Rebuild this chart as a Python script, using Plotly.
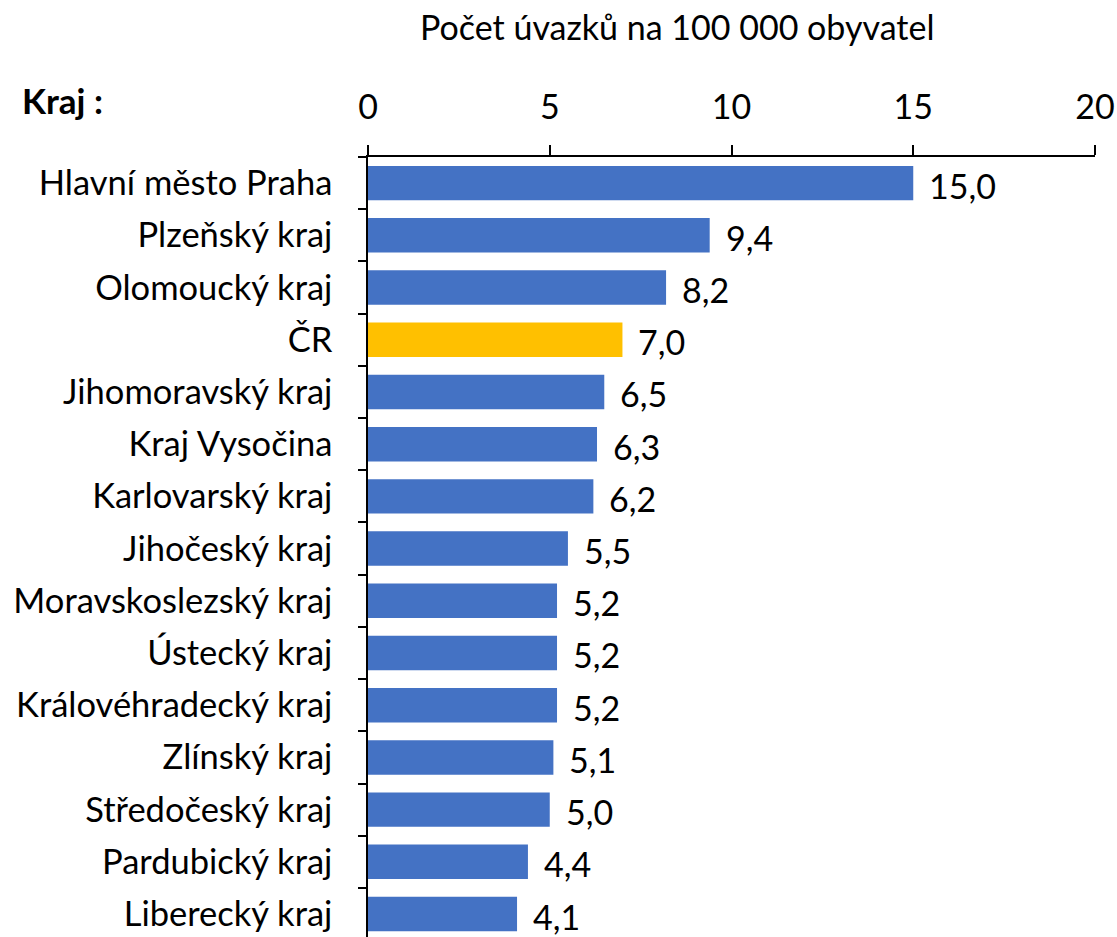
import plotly.graph_objects as go

categories = ["Hlavní město Praha", "Plzeňský kraj", "Olomoucký kraj", "ČR",
              "Jihomoravský kraj", "Kraj Vysočina", "Karlovarský kraj", "Jihočeský kraj",
              "Moravskoslezský kraj", "Ústecký kraj", "Královéhradecký kraj", "Zlínský kraj",
              "Středočeský kraj", "Pardubický kraj", "Liberecký kraj"]
values = [15.0, 9.4, 8.2, 7.0, 6.5, 6.3, 6.2, 5.5, 5.2, 5.2, 5.2, 5.1, 5.0, 4.4, 4.1]
labels = [f"{v:.1f}".replace(".", ",") for v in values]
x_ticks = [0, 5, 10, 15, 20]
title_text = "Počet úvazků na 100 000 obyvatel"
ylabel_text = "Kraj :"

BLUE = "#4472C4"
GOLD = "#FFC000"
colors = [GOLD if c == "ČR" else BLUE for c in categories]
FONT = "Lato"

fig = go.Figure(go.Bar(
    x=values, y=categories, orientation="h",
    marker=dict(color=colors, line=dict(width=0)),
    width=0.66, hoverinfo="skip",
))

for c, v, t in zip(categories, values, labels):
    fig.add_annotation(x=v, y=c, text=t, showarrow=False, xanchor="left",
                       xshift=14, yshift=-2, font=dict(family=FONT, size=34, color="black"))

W, H = 1117, 937
L, R, T, B = 368, 22, 157, 0

def px_to_paper(x, y):
    return (x - L) / (W - L - R), 1 - (y - T) / (H - T - B)

tx, ty = px_to_paper(677, 27)
fig.add_annotation(x=tx, y=ty, xref="paper", yref="paper", text=title_text,
                   showarrow=False, xanchor="center", yanchor="middle",
                   font=dict(family=FONT, size=34, color="black"))
kx, ky = px_to_paper(20, 100)
fig.add_annotation(x=kx, y=ky, xref="paper", yref="paper", text="<b>" + ylabel_text + "</b>",
                   showarrow=False, xanchor="left", yanchor="middle",
                   font=dict(family=FONT, size=35, color="black"))

fig.update_layout(
    width=W, height=H,
    margin=dict(l=L, r=R, t=T, b=B),
    plot_bgcolor="white", paper_bgcolor="white",
    showlegend=False,
    font=dict(family=FONT, size=34, color="black"),
)
fig.update_xaxes(
    side="top", range=[0, 20], tickvals=x_ticks, ticktext=[str(v) for v in x_ticks],
    showgrid=False, zeroline=False, showline=True, linecolor="black", linewidth=1.5,
    ticks="outside", ticklen=10, tickcolor="black", tickwidth=1.5,
    ticklabelstandoff=13, tickfont=dict(family=FONT, size=34, color="black"),
)
fig.update_yaxes(
    range=[len(categories) - 0.56, -0.5], showgrid=False, zeroline=False, showline=True,
    linecolor="black", linewidth=1.5, ticks="outside", ticklen=8, tickwidth=1.5,
    tickcolor="black", tickson="boundaries", ticklabelstandoff=27,
    tickfont=dict(family=FONT, size=34.5, color="black"),
)

fig.write_html("out.html", config={"displayModeBar": False},
               post_script="document.body.style.margin='0';document.body.style.overflow='hidden';")
